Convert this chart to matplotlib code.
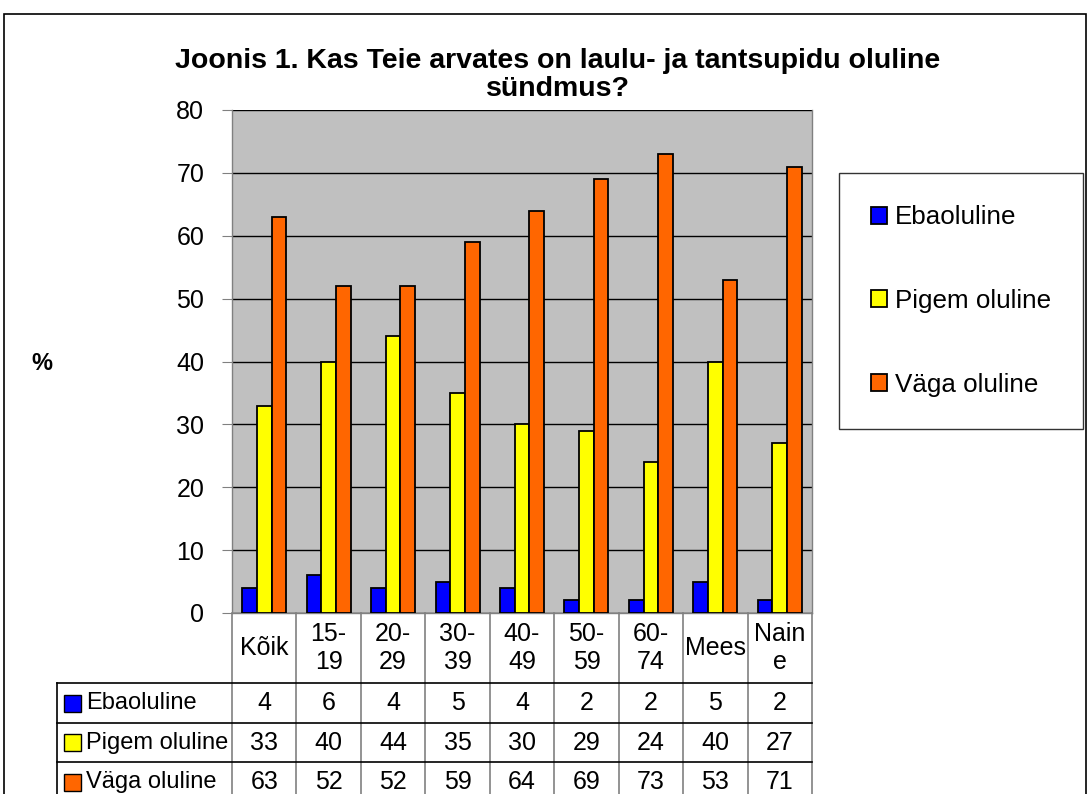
import numpy as np
import matplotlib
matplotlib.use("Agg")
import matplotlib.pyplot as plt
from matplotlib.patches import Rectangle
from matplotlib.transforms import blended_transform_factory

plt.rcParams['font.family'] = ['Liberation Sans', 'DejaVu Sans']

# Data
categories = ["Kõik", "15-\n19", "20-\n29", "30-\n39", "40-\n49",
              "50-\n59", "60-\n74", "Mees", "Nain\ne"]
series_names = ["Ebaoluline", "Pigem oluline", "Väga oluline"]
ebaoluline = [4, 6, 4, 5, 4, 2, 2, 5, 2]
pigem_oluline = [33, 40, 44, 35, 30, 29, 24, 40, 27]
vaga_oluline = [63, 52, 52, 59, 64, 69, 73, 53, 71]
colors = ["#0000FF", "#FFFF00", "#FF6600"]

W, H = 1088, 794


# pixel -> figure fraction
def fx(px):
    return px / W


def fy(py):
    return 1 - py / H


fig = plt.figure(figsize=(W / 100, H / 100), dpi=100)

# outer chart frame
fig.add_artist(Rectangle((fx(4), fy(800)), fx(1086) - fx(4), fy(14) - fy(800),
                         transform=fig.transFigure, fill=False,
                         edgecolor='black', linewidth=1.2))

# plot area
ax = fig.add_axes([fx(232), fy(613), fx(812) - fx(232), fy(110) - fy(613)])
ax.set_facecolor('#C0C0C0')

x = np.arange(len(categories))
w = 0.228
series = [ebaoluline, pigem_oluline, vaga_oluline]
for k, (vals, c, name) in enumerate(zip(series, colors, series_names)):
    ax.bar(x + (k - 1) * w, vals, w, color=c, edgecolor='black',
           linewidth=1.3, label=name, zorder=3)

ax.set_xlim(-0.5, len(categories) - 0.5)
ax.set_ylim(0, 80)
ax.set_yticks(range(0, 81, 10))
ax.yaxis.grid(True, color='black', linewidth=1)
ax.set_axisbelow(True)
ax.tick_params(axis='y', length=7, pad=13, labelsize=18, color='#808080')
ax.set_xticks([])
for s in ax.spines.values():
    s.set_color('#808080')
    s.set_linewidth(1)
ax.spines['top'].set_visible(False)

# "%" axis label
fig.text(fx(42), fy(363), "%", ha='center', va='center',
         fontsize=17, fontweight='bold')

# Title
fig.text(fx(558), fy(68), "Joonis 1. Kas Teie arvates on laulu- ja tantsupidu oluline",
         ha='center', va='baseline', fontsize=20.5, fontweight='bold')
fig.text(fx(558), fy(96), "sündmus?", ha='center', va='baseline',
         fontsize=20.5, fontweight='bold')

# Data table below the plot
trans = blended_transform_factory(ax.transData, ax.transAxes)
plot_h = 613 - 110
plot_w = 812 - 232


def ay(py):
    return (613 - py) / plot_h


def axx(px):
    return (px - 232) / plot_w


row_edges = [683, 723, 762, 802]
label_left = axx(57)

# vertical column lines
for b in np.arange(-0.5, len(categories)):
    ax.plot([b, b], [0, ay(810)], transform=trans, color='#808080',
            linewidth=1.2, clip_on=False)
ax.plot([label_left, label_left], [ay(683), ay(810)], transform=ax.transAxes,
        color='black', linewidth=1.2, clip_on=False)

# horizontal row lines
for py in row_edges[:-1]:
    ax.plot([label_left, 1], [ay(py), ay(py)], transform=ax.transAxes,
            color='black', linewidth=1.2, clip_on=False)

# header row with category names
for i, cat in enumerate(categories):
    ax.text(i, ay(648), cat, transform=trans, ha='center', va='center',
            fontsize=18, linespacing=1.25, clip_on=False)

# value rows
for r, (vals, c, name) in enumerate(zip(series, colors, series_names)):
    yc = ay((row_edges[r] + row_edges[r + 1]) / 2)
    ax.add_patch(Rectangle((axx(64), yc - 8.5 / plot_h), 17 / plot_w, 17 / plot_h,
                           transform=ax.transAxes, facecolor=c,
                           edgecolor='black', linewidth=1, clip_on=False))
    ax.text(axx(86), yc, name, transform=ax.transAxes, ha='left', va='center',
            fontsize=17, clip_on=False)
    for i, v in enumerate(vals):
        ax.text(i, yc, str(v), transform=trans, ha='center', va='center',
                fontsize=18, clip_on=False)

# Legend
leg = fig.legend(loc='center',
                 bbox_to_anchor=(fx(839), fy(432), fx(1083) - fx(839), fy(170) - fy(432)),
                 fontsize=18.7, frameon=True, fancybox=False, edgecolor='black',
                 handlelength=0.62, handleheight=0.62, labelspacing=2.3,
                 borderpad=1.25, handletextpad=0.3)
leg.get_frame().set_linewidth(1)

fig.savefig("out.png", dpi=100)
